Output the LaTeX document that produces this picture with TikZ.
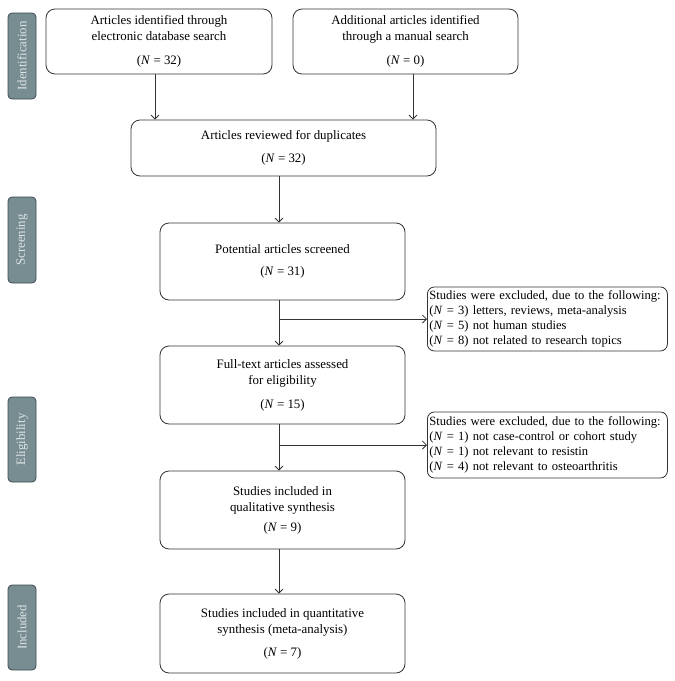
\documentclass[tikz,border=0pt]{standalone}
\usepackage{fontspec}
\setmainfont{Liberation Serif}
\usetikzlibrary{arrows.meta,calc}
\definecolor{side}{HTML}{788D92}
\definecolor{sideedge}{HTML}{3C4B4F}
\definecolor{sidetext}{HTML}{DDE5E6}
\definecolor{ln}{HTML}{333333}
\newcommand{\NN}[1]{(\textit{N}~=~#1)}
\tikzset{
  flowbox/.style={draw=ln, line width=0.8pt, rounded corners=9pt, align=center, font=\fontsize{12.9}{16}\selectfont, inner sep=2pt},
  exbox/.style={draw=ln, line width=0.8pt, rounded corners=7pt, align=left, font=\fontsize{12.6}{14.8}\selectfont, inner xsep=2pt, inner ysep=3pt, anchor=west, text width=236pt},
  sidebox/.style={draw=sideedge, fill=side, line width=0.8pt, rounded corners=4pt, minimum width=28pt, text=sidetext},
  sidetxt/.style={rotate=90, text=sidetext, font=\fontsize{12.8}{14}\selectfont},
  arr/.style={draw=ln, line width=0.8pt, -{Straight Barb[length=4pt,width=8pt]}}
}
\begin{document}
\begin{tikzpicture}[x=1pt,y=-1pt]
\useasboundingbox (0,0) rectangle (675,681);
% side labels
\node[sidebox, minimum height=86pt] (sid) at (22,56) {};
\node[sidetxt] (sidt) at (sid.center) {Identification};
\node[sidebox, minimum height=86pt] (ssc) at (22,240) {};
\node[sidetxt] (ssct) at (ssc.center) {Screening};
\node[sidebox, minimum height=85pt] (sel) at (22,439.5) {};
\node[sidetxt] (selt) at (sel.center) {Eligibility};
\node[sidebox, minimum height=85pt] (sin) at (22,627.5) {};
\node[sidetxt] (sint) at (sin.center) {Included};
% flow boxes
\node[flowbox, minimum width=226pt, minimum height=65pt] (id1) at (159,41.5)
  {Articles identified through\\electronic database search\\[8pt]\NN{32}};
\node[flowbox, minimum width=225pt, minimum height=65pt] (id2) at (405.5,41.5)
  {Additional articles identified\\through a manual search\\[8pt]\NN{0}};
\node[flowbox, minimum width=305pt, minimum height=56pt] (dup) at (283.5,148)
  {Articles reviewed for duplicates\\[7pt]\NN{32}};
\node[flowbox, minimum width=245pt, minimum height=77pt] (pot) at (282.5,261.5)
  {Potential articles screened\\[6pt]\NN{31}};
\node[flowbox, minimum width=245pt, minimum height=78pt] (full) at (282.5,385)
  {Full-text articles assessed\\for eligibility\\[8pt]\NN{15}};
\node[flowbox, minimum width=245pt, minimum height=78pt] (qual) at (282.5,510)
  {Studies included in\\qualitative synthesis\\[4pt]\NN{9}};
\node[flowbox, minimum width=245pt, minimum height=79pt] (quant) at (282.5,633.5)
  {Studies included in quantitative\\synthesis (meta-analysis)\\[7pt]\NN{7}};
% exclusion boxes
\node[exbox, minimum height=64pt] (ex1) at (427,319)
  {Studies were excluded, due to the following:\\\NN{3} letters, reviews, meta-analysis\\\NN{5} not human studies\\\NN{8} not related to research topics};
\node[exbox, minimum height=66pt] (ex2) at (427,445)
  {Studies were excluded, due to the following:\\\NN{1} not case-control or cohort study\\\NN{1} not relevant to resistin\\\NN{4} not relevant to osteoarthritis};
% connectors
\coordinate (a1) at ([xshift=-4pt]id1.south);
\coordinate (a2) at ([xshift=7.5pt]id2.south);
\draw[arr] (a1) -- (a1 |- dup.north);
\draw[arr] (a2) -- (a2 |- dup.north);
\coordinate (m1) at ([xshift=-4.5pt]dup.south);
\draw[arr] (m1) -- (m1 |- pot.north);
\coordinate (m2) at ([xshift=-3.5pt]pot.south);
\draw[arr] (m2) -- (m2 |- full.north);
\coordinate (b1) at (m2 |- ex1.west);
\draw[arr] (b1) -- (ex1.west);
\coordinate (m3) at ([xshift=-3.5pt]full.south);
\draw[arr] (m3) -- (m3 |- qual.north);
\coordinate (b2) at (m3 |- ex2.west);
\draw[arr] (b2) -- (ex2.west);
\coordinate (m4) at ([xshift=-3.5pt]qual.south);
\draw[arr] (m4) -- (m4 |- quant.north);
\end{tikzpicture}
\end{document}
